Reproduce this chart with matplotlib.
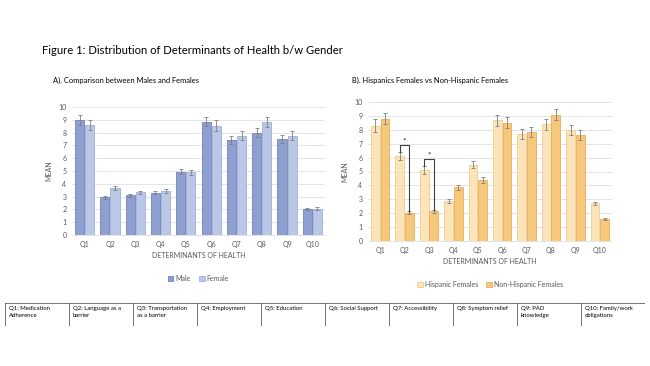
import numpy as np
import matplotlib
matplotlib.use("Agg")
import matplotlib.pyplot as plt

plt.rcParams['font.family'] = ['Lato', 'DejaVu Sans']

# Data
questions = ["Q1", "Q2", "Q3", "Q4", "Q5", "Q6", "Q7", "Q8", "Q9", "Q10"]

male = [9.0, 2.95, 3.1, 3.3, 4.95, 8.85, 7.4, 8.0, 7.5, 2.0]
female = [8.6, 3.65, 3.35, 3.45, 4.9, 8.55, 7.75, 8.8, 7.75, 2.05]
male_err = [0.4, 0.12, 0.1, 0.12, 0.2, 0.35, 0.3, 0.35, 0.35, 0.08]
female_err = [0.4, 0.15, 0.12, 0.13, 0.2, 0.4, 0.35, 0.4, 0.35, 0.1]

hisp = [8.3, 6.1, 5.1, 2.9, 5.5, 8.7, 7.7, 8.4, 8.0, 2.7]
nonhisp = [8.8, 2.05, 2.15, 3.85, 4.4, 8.5, 7.85, 9.1, 7.65, 1.6]
hisp_err = [0.45, 0.3, 0.3, 0.15, 0.25, 0.4, 0.35, 0.4, 0.35, 0.12]
nonhisp_err = [0.4, 0.08, 0.1, 0.15, 0.2, 0.4, 0.35, 0.4, 0.35, 0.08]

# significance brackets: (question index, bracket height)
sig = [(1, 6.9), (2, 5.9)]

table_text = ["Q1: Medication\nAdherence", "Q2: Language as a\nbarrier",
              "Q3: Transportation\nas a barrier", "Q4: Employment", "Q5: Education",
              "Q6: Social Support", "Q7: Accessibility", "Q8: Symptom relief",
              "Q9: PAD\nknowledge", "Q10: Family/work\nobligations"]

grey = "#595959"
fig = plt.figure(figsize=(6.5, 3.66), dpi=100)

fig.text(42 / 650, 1 - 50 / 366, "Figure 1: Distribution of Determinants of Health b/w Gender",
         fontsize=8.1, va="center", ha="left", color="black")


def bar_panel(ax, a, b, ea, eb, ca, cb, la, lb, title, tx, ty, leg_y):
    x = np.arange(len(questions))
    w = 0.36
    ax.bar(x - 0.2, a, w, color=ca[0], edgecolor=ca[1], linewidth=0.6, label=la, zorder=2)
    ax.bar(x + 0.2, b, w, color=cb[0], edgecolor=cb[1], linewidth=0.6, label=lb, zorder=2)
    ax.errorbar(x - 0.2, a, yerr=ea, fmt="none", ecolor="#7f7f7f", elinewidth=0.6,
                capsize=1.5, capthick=0.6, zorder=3)
    ax.errorbar(x + 0.2, b, yerr=eb, fmt="none", ecolor="#7f7f7f", elinewidth=0.6,
                capsize=1.5, capthick=0.6, zorder=3)
    ax.set_xlim(-0.5, 9.5)
    ax.set_ylim(0, 10)
    ax.set_yticks(range(0, 11))
    ax.set_xticks(x)
    ax.set_xticklabels(questions)
    ax.tick_params(axis="both", length=0, labelsize=5, colors=grey, pad=4)
    ax.yaxis.grid(True, color="#d9d9d9", linewidth=0.5, zorder=0)
    for s in ["top", "right", "left"]:
        ax.spines[s].set_visible(False)
    ax.spines["bottom"].set_color("#d9d9d9")
    ax.spines["bottom"].set_linewidth(0.5)
    ax.set_xlabel("DETERMINANTS OF HEALTH", fontsize=5, color=grey, labelpad=3)
    ax.set_ylabel("MEAN", fontsize=5, color=grey, labelpad=4)
    fig.text(tx, ty, title, fontsize=5.4, ha="left", va="center", color="black")
    ax.legend(loc="center", bbox_to_anchor=(0.5, leg_y), ncol=2, frameon=False,
              fontsize=5, labelcolor=grey, handlelength=0.8, handleheight=0.8,
              handletextpad=0.3, columnspacing=1.2)
    return x


axl = fig.add_axes([72 / 650, 1 - 235 / 366, 253 / 650, 128 / 366])
bar_panel(axl, male, female, male_err, female_err,
          ("#8e9fd0", "#6f83bd"), ("#bac7e6", "#9fb0da"), "Male", "Female",
          "A). Comparison between Males and Females", 53 / 650, 1 - 80 / 366, -0.34)

axr = fig.add_axes([368 / 650, 1 - 241 / 366, 244 / 650, 139 / 366])
xr = bar_panel(axr, hisp, nonhisp, hisp_err, nonhisp_err,
               ("#fbe4b9", "#f1cd8e"), ("#f6c87b", "#e6ad5c"), "Hispanic Females",
               "Non-Hispanic Females",
               "B). Hispanics Females vs Non-Hispanic Females", 352 / 650, 1 - 80 / 366, -0.31)

for i, h in sig:
    x1 = xr[i] - 0.2
    x2 = xr[i] + 0.2
    axr.plot([x1, x1, x2, x2], [hisp[i] + hisp_err[i], h, h, nonhisp[i] + 0.05],
             color="#404040", linewidth=0.8, zorder=4)
    axr.text(i, h + 0.05, "*", ha="center", va="bottom", fontsize=6, color="#202020")

# Table of question definitions
tab = fig.add_axes([5 / 650, 1 - 326 / 366, 640 / 650, 23 / 366])
tab.set_xlim(0, len(table_text))
tab.set_ylim(0, 1)
tab.axis("off")
for k in range(len(table_text) + 1):
    tab.plot([k, k], [0, 1], color="#404040", linewidth=0.5)
tab.plot([0, len(table_text)], [0, 0], color="#404040", linewidth=0.5)
tab.plot([0, len(table_text)], [1, 1], color="#404040", linewidth=0.5)
for k, t in enumerate(table_text):
    tab.text(k + 0.06, 0.85, t, fontsize=4.3, ha="left", va="top", color="black",
             linespacing=1.4)

fig.savefig("out.png", dpi=100)
